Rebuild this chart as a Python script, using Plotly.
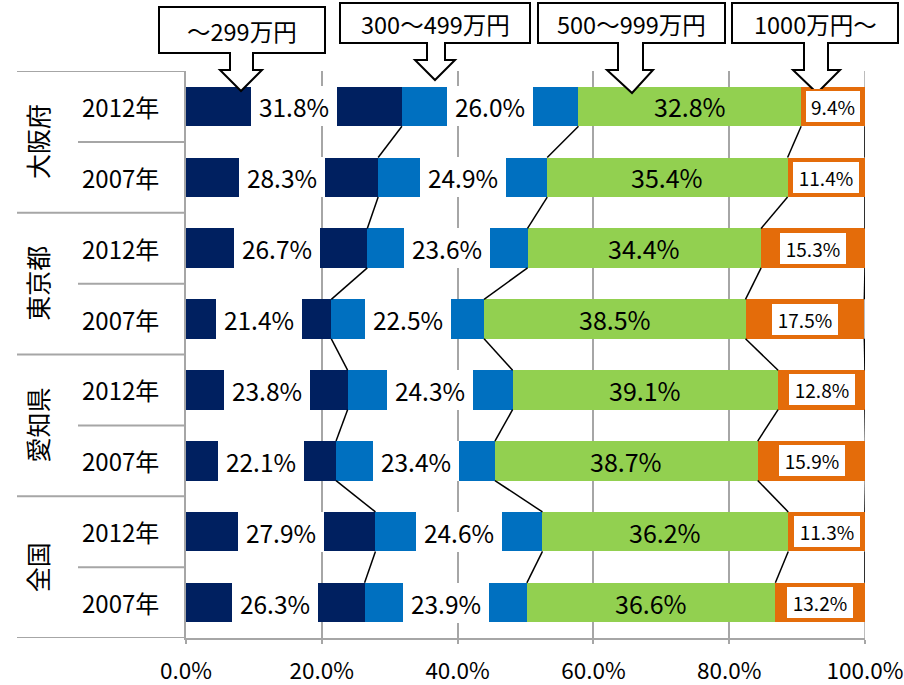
import numpy as np
import plotly.graph_objects as go

# Household income distribution by region and survey year (share of households, %)
regions = ["大阪府", "東京都", "愛知県", "全国"]
years = ["2012年", "2007年"]
bands = ["～299万円", "300～499万円", "500～999万円", "1000万円～"]
band_colors = ["#002060", "#0070C0", "#92D050", "#E46C0A"]

under_300 = [31.8, 28.3, 26.7, 21.4, 23.8, 22.1, 27.9, 26.3]
from_300_to_499 = [26.0, 24.9, 23.6, 22.5, 24.3, 23.4, 24.6, 23.9]
from_500_to_999 = [32.8, 35.4, 34.4, 38.5, 39.1, 38.7, 36.2, 36.6]
over_1000 = [9.4, 11.4, 15.3, 17.5, 12.8, 15.9, 11.3, 13.2]

x_ticks = [0, 20, 40, 60, 80, 100]

FONT = "Noto Sans CJK JP"
GRID = "#A6A6A6"

# page and plot-area geometry (pixels)
W, H = 904, 685
L, R, T, B = 186, 39, 71, 47
PW, PH = W - L - R, H - T - B


def px_x(p):
    return (p - L) / PW


def px_y(p):
    return (H - B - p) / PH


series = [under_300, from_300_to_499, from_500_to_999, over_1000]
vals = np.array(series, dtype=float)
ends = np.cumsum(vals, axis=0)
starts = ends - vals
rows = np.arange(vals.shape[1])
bar_w = 0.557

fig = go.Figure()
for name, color, v in zip(bands, band_colors, series):
    fig.add_trace(go.Bar(
        y=rows, x=v, orientation="h", name=name, width=bar_w,
        marker=dict(color=color, line=dict(width=0)),
        showlegend=False, hoverinfo="x+name",
    ))

annotations = []
shapes = []
centered = dict(showarrow=False, xanchor="center", yanchor="middle")

# value labels
for k in range(len(series)):
    for i in rows:
        v = vals[k, i]
        cx = starts[k, i] + v / 2
        txt = f"{v:.1f}%"
        if k < 2:
            annotations.append(dict(
                x=cx, y=i, xref="x", yref="y", text=txt, **centered,
                font=dict(family=FONT, size=24.5, color="#000000"),
                bgcolor="#FFFFFF", width=86, height=40, borderpad=0, borderwidth=0,
            ))
        elif k == 2:
            annotations.append(dict(
                x=cx, y=i, xref="x", yref="y", text=txt, **centered,
                font=dict(family=FONT, size=25, color="#000000"),
            ))
        else:
            annotations.append(dict(
                x=cx, y=i, xref="x", yref="y", text=txt, **centered,
                font=dict(family=FONT, size=19, color="#000000"),
                bgcolor="#FFFFFF", bordercolor=band_colors[3], borderwidth=2,
                borderpad=0, width=6 + 12 * len(txt), height=31,
            ))

# 100% gridline at the right edge of the plot area
shapes.append(dict(type="line", xref="x", yref="paper", x0=100, x1=100, y0=0, y1=1,
                   line=dict(color=GRID, width=1.5), layer="below"))

# series lines joining the segment boundaries of neighbouring bars
for k in range(len(series)):
    for i in rows[:-1]:
        shapes.append(dict(
            type="line", xref="x", yref="y",
            x0=ends[k, i], y0=i + bar_w / 2,
            x1=ends[k, i + 1], y1=i + 1 - bar_w / 2,
            line=dict(color="#000000", width=1.5),
        ))

# category table on the left: year labels, rotated region labels, dividers
table_left = px_x(17)
year_left = px_x(78)
for g, region in enumerate(regions):
    annotations.append(dict(
        x=px_x(37), y=2 * g + 0.5, xref="paper", yref="y", text=region,
        textangle=-90, **centered,
        font=dict(family=FONT, size=25, color="#000000"),
    ))
    for j, yr in enumerate(years):
        annotations.append(dict(
            x=px_x(120), y=2 * g + j, xref="paper", yref="y", text=yr,
            **centered, font=dict(family=FONT, size=24, color="#000000"),
        ))
    shapes.append(dict(type="line", xref="paper", yref="y",
                       x0=year_left, x1=0, y0=2 * g + 0.5, y1=2 * g + 0.5,
                       line=dict(color=GRID, width=2)))
for yb in [-0.5, 1.5, 3.5, 5.5, 7.5]:
    shapes.append(dict(type="line", xref="paper", yref="y",
                       x0=table_left, x1=0, y0=yb, y1=yb,
                       line=dict(color=GRID, width=2)))

# arrow callouts naming each income band
callouts = [
    # box x0, x1, y0, y1, shaft x0, x1, shaft end y, head x0, x1, tip x, tip y
    (159, 325, 7, 53, 230, 253, 70, 220, 262, 241, 91),
    (340, 530, 3, 43, 427, 445, 60, 415, 455, 435, 80),
    (538, 725, 3, 43, 618, 643, 70, 607, 653, 632, 93),
    (732, 898, 3, 43, 804, 828, 70, 793, 840, 817, 93),
]
for name, c in zip(bands, callouts):
    bx0, bx1, by0, by1, sx0, sx1, sy, hx0, hx1, tx, ty = c
    pts = [(bx0, by0), (bx1, by0), (bx1, by1), (sx1, by1), (sx1, sy), (hx1, sy),
           (tx, ty), (hx0, sy), (sx0, sy), (sx0, by1), (bx0, by1)]
    path = "M " + " L ".join(f"{px_x(a):.5f},{px_y(b):.5f}" for a, b in pts) + " Z"
    shapes.append(dict(type="path", xref="paper", yref="paper", path=path,
                       fillcolor="#FFFFFF", line=dict(color="#000000", width=2),
                       layer="above"))
    annotations.append(dict(
        x=px_x((bx0 + bx1) / 2), y=px_y((by0 + by1) / 2 + 1), xref="paper", yref="paper",
        text=name, **centered, font=dict(family=FONT, size=23.5, color="#000000"),
    ))

fig.update_layout(
    width=W, height=H,
    margin=dict(l=L, r=R, t=T, b=B, pad=0, autoexpand=False),
    paper_bgcolor="#FFFFFF", plot_bgcolor="#FFFFFF",
    barmode="stack", bargap=0,
    font=dict(family=FONT, color="#000000"),
    xaxis=dict(
        range=[0, 100], tickvals=x_ticks, ticktext=[f"{v:.1f}%" for v in x_ticks],
        showgrid=True, gridcolor=GRID, gridwidth=1.5, zeroline=False,
        showline=True, linecolor=GRID, linewidth=2, automargin=False,
        ticks="outside", ticklen=4, tickcolor=GRID, tickwidth=1.5,
        ticklabelstandoff=8, ticklabeloverflow="allow",
        tickfont=dict(family=FONT, size=22.5, color="#000000"),
        fixedrange=True,
    ),
    yaxis=dict(
        range=[7.5, -0.5], showticklabels=False, showgrid=False, zeroline=False,
        showline=True, linecolor=GRID, linewidth=2, fixedrange=True, automargin=False,
    ),
    annotations=annotations,
    shapes=shapes,
)

fig.write_html("out.html")
